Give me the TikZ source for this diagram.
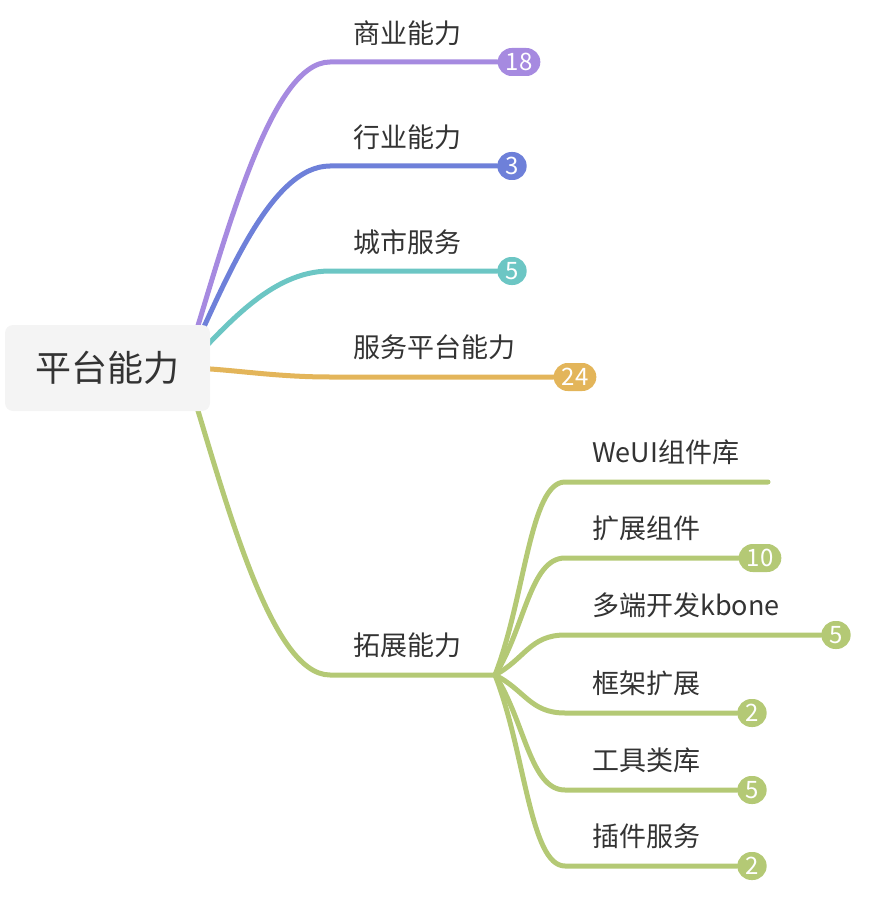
\documentclass[tikz,border=0pt]{standalone}
\usepackage{fontspec}
\setmainfont{Noto Sans CJK SC}
\usepackage{xcolor}
\usepackage{tikz}
\usetikzlibrary{backgrounds}
\definecolor{ink}{HTML}{333333}
\definecolor{rootbg}{HTML}{F4F4F4}
\definecolor{brpurple}{HTML}{A68AE0}
\definecolor{brblue}{HTML}{6E80D9}
\definecolor{brteal}{HTML}{6CC6C4}
\definecolor{brorange}{HTML}{E3B55A}
\definecolor{brgreen}{HTML}{B4C975}
\tikzset{
  rootbox/.style={fill=rootbg, rounded corners=8pt, minimum width=205pt, minimum height=86pt, text=ink, font=\fontsize{36}{40}\selectfont},
  lab/.style={anchor=west, inner sep=0pt, text=ink, font=\fontsize{27}{30}\selectfont},
  badge/.style={fill=#1, text=white, rounded corners=14pt, minimum height=28pt, minimum width=28pt, inner xsep=8pt, inner ysep=0pt, font=\fontsize{24}{24}\selectfont},
  br/.style={draw=#1, line width=5pt, line cap=round}
}
\begin{document}
\begin{tikzpicture}[x=1pt,y=-1pt]
  \useasboundingbox (0,0) rectangle (894,912);

  \node[rootbox] (root) at (107.5,368) {平台能力};
  \coordinate (hub) at (185,368);

  % first level
  \node[lab] (l-shang) at (353,33) {商业能力};
  \node[lab] (l-hang) at (353,137) {行业能力};
  \node[lab] (l-cheng) at (353,242) {城市服务};
  \node[lab] (l-fu) at (353,347) {服务平台能力};
  \node[lab] (l-tuo) at (353,645) {拓展能力};

  \node[badge=brpurple] (b-shang) at (519,62) {18};
  \node[badge=brblue] (b-hang) at (512,166) {3};
  \node[badge=brteal] (b-cheng) at (512,271) {5};
  \node[badge=brorange] (b-fu) at (575,377) {24};

  \coordinate (k-shang) at (330,62);
  \coordinate (k-hang) at (330,166);
  \coordinate (k-cheng) at (330,271);
  \coordinate (k-fu) at (330,377);
  \coordinate (k-tuo) at (330,675);
  \coordinate (j) at (495,675);

  % second level
  \node[lab] (l-weui) at (592,452) {WeUI组件库};
  \node[lab] (l-kuo) at (592,528) {扩展组件};
  \node[lab] (l-duo) at (592,605) {多端开发kbone};
  \node[lab] (l-kuang) at (592,683) {框架扩展};
  \node[lab] (l-gong) at (592,760) {工具类库};
  \node[lab] (l-cha) at (592,836) {插件服务};

  \node[badge=brgreen] (b-kuo) at (760,558) {10};
  \node[badge=brgreen] (b-duo) at (836,635) {5};
  \node[badge=brgreen] (b-kuang) at (752,713) {2};
  \node[badge=brgreen] (b-gong) at (752,790) {5};
  \node[badge=brgreen] (b-cha) at (752,866) {2};

  \coordinate (k-weui) at (565,482);
  \coordinate (e-weui) at (768,482);
  \coordinate (k-kuo) at (565,558);
  \coordinate (k-duo) at (565,635);
  \coordinate (k-kuang) at (565,713);
  \coordinate (k-gong) at (565,790);
  \coordinate (k-cha) at (565,866);

  \begin{scope}[on background layer]
    \draw[br=brpurple] (hub) .. controls +(40,-128) and +(-60,0) .. (k-shang) -- (b-shang);
    \draw[br=brblue] (hub) .. controls +(40,-85) and +(-60,0) .. (k-hang) -- (b-hang);
    \draw[br=brteal] (hub) .. controls +(40,-40) and +(-60,0) .. (k-cheng) -- (b-cheng);
    \draw[br=brorange] (hub) .. controls +(40,0) and +(-60,0) .. (k-fu) -- (b-fu);
    \draw[br=brgreen] (hub) .. controls +(40,129) and +(-60,0) .. (k-tuo) -- (j);

    \draw[br=brgreen] (j) .. controls +(30,-77) and +(-35,0) .. (k-weui) -- (e-weui);
    \draw[br=brgreen] (j) .. controls +(30,-47) and +(-35,0) .. (k-kuo) -- (b-kuo);
    \draw[br=brgreen] (j) .. controls +(30,-16) and +(-35,0) .. (k-duo) -- (b-duo);
    \draw[br=brgreen] (j) .. controls +(30,15) and +(-35,0) .. (k-kuang) -- (b-kuang);
    \draw[br=brgreen] (j) .. controls +(30,46) and +(-35,0) .. (k-gong) -- (b-gong);
    \draw[br=brgreen] (j) .. controls +(30,76) and +(-35,0) .. (k-cha) -- (b-cha);
  \end{scope}
\end{tikzpicture}
\end{document}
